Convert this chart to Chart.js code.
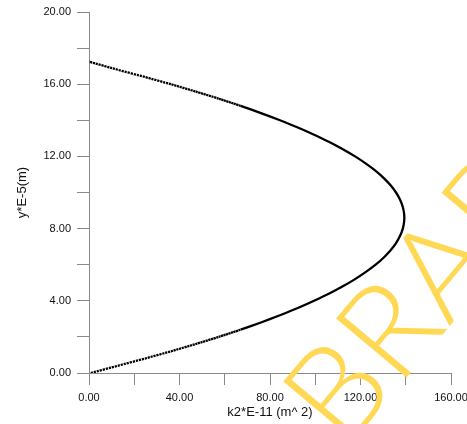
<!DOCTYPE html>
<html>
<head>
<meta charset="utf-8">
<script src="https://cdn.jsdelivr.net/npm/chart.js@4/dist/chart.umd.min.js"></script>
<style>
  html, body { margin: 0; padding: 0; background: #ffffff; }
  canvas { display: block; }
</style>
</head>
<body>
<canvas id="c" width="467" height="424"></canvas>
<script>
// Profile samples: position y (×1e-5 m) and permeability k2 (×1e-11 m^2)
const yValues = [
  0.0, 0.4, 0.8, 1.2, 1.6, 2.0, 2.4, 2.8, 3.2, 3.6, 4.0,
  4.4, 4.8, 5.2, 5.6, 6.0, 6.4, 6.8, 7.2, 7.6, 8.0, 8.4,
  8.8, 9.2, 9.6, 10.0, 10.4, 10.8, 11.2, 11.6, 12.0, 12.4, 12.8,
  13.2, 13.6, 14.0, 14.4, 14.8, 15.2, 15.6, 16.0, 16.4, 16.8, 17.25
];
const kValues = [
  0.8, 12.7, 24.7, 36.2, 47.0, 57.3, 67.0, 76.0, 84.4, 92.3, 99.5,
  106.2, 112.2, 117.6, 122.4, 126.7, 130.3, 133.3, 135.7, 137.5, 138.7, 139.3,
  139.3, 138.7, 137.5, 135.7, 133.3, 130.3, 126.7, 122.4, 117.6, 112.2, 106.2,
  99.5, 92.3, 84.4, 76.0, 67.0, 57.3, 47.0, 36.2, 24.7, 12.7, 0.0
];
// Labelled ticks (unlabelled minor ticks sit halfway between)
const xTickLabels = [0, 40, 80, 120, 160];
const yTickLabels = [0, 4, 8, 12, 16, 20];
const xTitle = 'k2*E-11 (m^ 2)';
const yTitle = 'y*E-5(m)';
const watermarkText = 'BRAPH';

const points = yValues.map((y, i) => ({ x: kValues[i], y: y }));

const axisGrey = '#8a8a8a';
const tickFont = { family: 'Liberation Sans, Arial, sans-serif', size: 11 };
const titleFont = { family: 'Liberation Sans, Arial, sans-serif', size: 13 };

// Samples are evenly spaced in y, so the curve looks dotted where it runs flat
function segmentDash(ctx) {
  const dx = ctx.p1.x - ctx.p0.x;
  const dy = ctx.p1.y - ctx.p0.y;
  const len = Math.hypot(dx, dy);
  const spacing = 0.8 * len / Math.max(Math.abs(dy), 1e-6);
  return spacing > 2.5 ? [2.2, spacing - 2.2] : [];
}

const watermark = {
  id: 'watermark',
  afterDraw(chart) {
    const c = chart.ctx;
    c.save();
    c.translate(345, 451);
    c.rotate(-50 * Math.PI / 180);
    c.font = '300 130px Lato, "Liberation Sans", sans-serif';
    c.fillStyle = '#FFD955';
    c.textBaseline = 'alphabetic';
    c.fillText(watermarkText, 0, 0);
    c.restore();
  }
};

new Chart(document.getElementById('c'), {
  type: 'scatter',
  data: {
    datasets: [{
      data: points,
      showLine: true,
      borderColor: '#000000',
      borderWidth: 2.3,
      pointRadius: 0,
      tension: 0.2,
      segment: { borderDash: segmentDash }
    }]
  },
  options: {
    responsive: false,
    animation: false,
    events: [],
    layout: { padding: { left: 0, right: 16, top: 12, bottom: 0 } },
    plugins: { legend: { display: false }, tooltip: { enabled: false } },
    scales: {
      x: {
        type: 'linear',
        min: 0, max: 160,
        border: { display: true, color: axisGrey, width: 1 },
        grid: { drawOnChartArea: false, drawTicks: true, tickLength: 12, color: axisGrey },
        ticks: {
          stepSize: 20,
          autoSkip: false,
          maxRotation: 0,
          padding: 6,
          color: '#111111',
          font: tickFont,
          callback: v => xTickLabels.includes(v) ? v.toFixed(2) : ''
        },
        title: { display: true, text: xTitle, color: '#111111', font: titleFont, padding: { top: 0, bottom: 4 } },
        afterFit(s) { s.height = 51; s.paddingLeft = 0; s.paddingRight = 0; }
      },
      y: {
        type: 'linear',
        min: 0, max: 20,
        border: { display: true, color: axisGrey, width: 1 },
        grid: { drawOnChartArea: false, drawTicks: true, tickLength: 12, color: axisGrey },
        ticks: {
          stepSize: 2,
          autoSkip: false,
          padding: 6,
          color: '#111111',
          font: tickFont,
          callback: v => yTickLabels.includes(v) ? v.toFixed(2) : ''
        },
        title: { display: true, text: yTitle, color: '#111111', font: titleFont, padding: { top: 15, bottom: 0 } },
        afterFit(s) { s.width = 89; s.paddingTop = 0; s.paddingBottom = 0; }
      }
    }
  },
  plugins: [watermark]
});
</script>
</body>
</html>
